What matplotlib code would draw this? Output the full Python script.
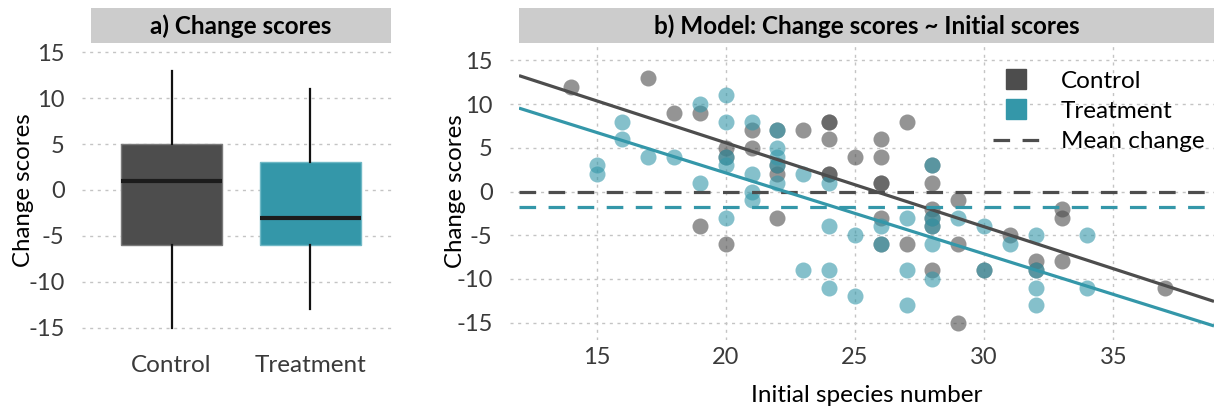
import matplotlib
matplotlib.use("Agg")
from matplotlib import pyplot as plt
from matplotlib.patches import Rectangle
from matplotlib.lines import Line2D

plt.rcParams['font.family'] = ['Lato', 'DejaVu Sans']
plt.rcParams['axes.unicode_minus'] = False

groups = ["Control", "Treatment"]
colors = ["#4D4D4D", "#3497A9"]
edge_colors = ["#7a7a7a", "#6fb8c5"]

# box summaries: q1, median, q3, lower whisker, upper whisker
box_q1 = [-6, -6]
box_med = [1, -3]
box_q3 = [5, 3]
box_lo = [-15, -13]
box_hi = [13, 11]

# initial species number vs change score, per group
control_x = [14, 17, 18, 19, 19, 20, 20, 20, 21, 21, 22, 22, 22, 22, 23, 24, 24, 24, 24, 24,
             25, 26, 26, 26, 26, 26, 26, 27, 27, 28, 28, 28, 28, 28, 28, 29, 29, 29, 30, 31,
             32, 32, 33, 33, 33, 37]
control_y = [12, 13, 9, 9, -4, 5, 4, -6, 7, 5, 7, 3, 2, -3, 7, 8, 8, 6, 2, 2,
             4, 6, 4, 1, 1, -3, -6, 8, -6, 3, 1, -2, -3, -4, -9, -1, -6, -15, -9, -5,
             -8, -9, -2, -3, -8, -11]
treat_x = [15, 15, 16, 16, 17, 18, 19, 19, 20, 20, 20, 20, 20, 21, 21, 21, 21, 22, 22, 22,
           22, 22, 23, 23, 24, 24, 24, 24, 25, 25, 26, 26, 27, 27, 27, 28, 28, 28, 28, 28,
           29, 30, 30, 31, 32, 32, 32, 32, 34, 34]
treat_y = [3, 2, 8, 6, 4, 4, 10, 1, 11, 8, 4, 3, -3, 8, 2, 0, -1, 7, 5, 4,
           3, 1, 2, -9, 1, -4, -9, -11, -5, -12, -4, -6, -3, -9, -13, 3, -3, -4, -6, -10,
           -3, -4, -9, -6, -5, -9, -11, -13, -5, -11]

# fitted model lines (intercept, slope) and group mean change
fit_intercept = [24.8, 20.67]
fit_slope = [-0.961, -0.927]
mean_change = [0.0, -1.8]

y_ticks = [-15, -10, -5, 0, 5, 10, 15]
y_tick_labels = ["-15", "-10", "-5", "0", "5", "10", "15"]
x_ticks = [15, 20, 25, 30, 35]
x_tick_labels = ["15", "20", "25", "30", "35"]

W, H = 1214, 409
fig = plt.figure(figsize=(W / 100, H / 100), dpi=100)

grid_kw = dict(color="#c4c4c4", lw=1.0, linestyle=(0, (2.2, 3.3)), zorder=0)
tick_color = "#3a3a3a"


def strip(x0, x1, text):
    fig.patches.append(Rectangle((x0 / W, 1 - 42.7 / H), (x1 - x0) / W, 34.4 / H,
                                 transform=fig.transFigure, facecolor="#cccccc",
                                 edgecolor="none"))
    fig.text((x0 + x1) / 2 / W, 1 - 26 / H, text, ha="center", va="center",
             fontsize=17.5, fontweight="bold", color="black")


def clean(ax):
    for s in ax.spines.values():
        s.set_visible(False)
    ax.tick_params(length=0, labelsize=17, labelcolor=tick_color)


# a) box plot
ax1 = fig.add_axes([91 / W, (H - 337) / H, 300 / W, 294 / H])
clean(ax1)
ax1.set_xlim(0.42, 2.58)
ax1.set_ylim(-16, 16)
for t in y_ticks:
    ax1.axhline(t, xmin=-9 / 300, xmax=1, clip_on=False, **grid_kw)
stats = []
for i, g in enumerate(groups):
    stats.append(dict(label=g, q1=box_q1[i], med=box_med[i], q3=box_q3[i],
                      whislo=box_lo[i], whishi=box_hi[i], fliers=[]))
bp = ax1.bxp(stats, positions=[1, 2], widths=0.73, patch_artist=True, showcaps=False,
             showfliers=False,
             medianprops=dict(color="#1c1c1c", lw=3.0),
             whiskerprops=dict(color="#111111", lw=1.6))
for box, fc, ec in zip(bp["boxes"], colors, edge_colors):
    box.set_facecolor(fc)
    box.set_edgecolor(ec)
    box.set_linewidth(1.0)
    box.set_zorder(2)
ax1.set_yticks(y_ticks, y_tick_labels)
ax1.set_xticks([1, 2], groups)
ax1.tick_params(axis="y", pad=19)
ax1.tick_params(axis="x", pad=13, labelsize=17.5)
ax1.set_ylabel("Change scores", fontsize=17.3)
ax1.yaxis.set_label_coords(-0.19, 0.5)
strip(91, 391, "a) Change scores")

# b) scatter with model lines
ax2 = fig.add_axes([519 / W, (H - 340) / H, 695 / W, 297 / H])
clean(ax2)
ax2.set_xlim(12, 38.9)
ax2.set_ylim(-17, 17)
for t in y_ticks:
    ax2.axhline(t, xmin=-9 / 695, xmax=1, clip_on=False, **grid_kw)
for t in x_ticks:
    ax2.axvline(t, **grid_kw)

ax2.scatter(control_x, control_y, s=133, color=colors[0], alpha=0.6, linewidths=0, zorder=2)
ax2.scatter(treat_x, treat_y, s=133, color=colors[1], alpha=0.6, linewidths=0, zorder=2)

xs = [12, 38.9]
for i in range(2):
    ax2.plot(xs, [fit_intercept[i] + fit_slope[i] * x for x in xs], color=colors[i],
             lw=2.3, zorder=3, solid_capstyle="butt")
    ax2.axhline(mean_change[i], color=colors[i], lw=2.3, dashes=(5.2, 3.9), zorder=3)

ax2.set_yticks(y_ticks, y_tick_labels)
ax2.set_xticks(x_ticks, x_tick_labels)
ax2.tick_params(axis="y", pad=19)
ax2.tick_params(axis="x", pad=5)
ax2.set_ylabel("Change scores", fontsize=17.3)
ax2.yaxis.set_label_coords(-0.076, 0.5)
ax2.set_xlabel("Initial species number", fontsize=17.5)
ax2.xaxis.set_label_coords(0.5, -0.152)

handles = [Line2D([], [], marker="s", linestyle="none", markersize=14, color=colors[0]),
           Line2D([], [], marker="s", linestyle="none", markersize=14, color=colors[1]),
           Line2D([], [], color=colors[0], lw=2.3, dashes=(5.2, 3.9))]
ax2.legend(handles, ["Control", "Treatment", "Mean change"], loc="upper right",
           bbox_to_anchor=(1.0, 0.94), frameon=False, fontsize=17.5,
           handlelength=1.9, handletextpad=0.9, labelspacing=0.38, borderaxespad=0)
strip(519, 1214, "b) Model: Change scores ~ Initial scores")

fig.savefig("out.png", dpi=100)
